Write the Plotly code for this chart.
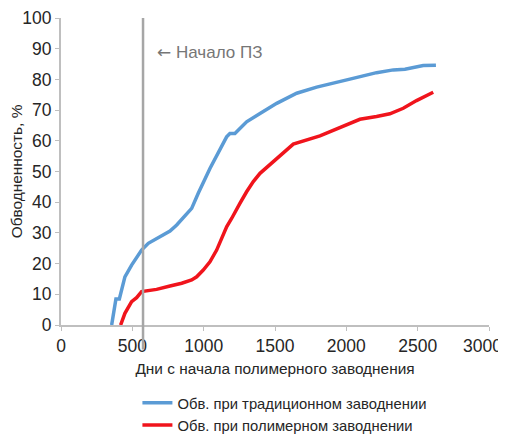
import plotly.graph_objects as go

blue_x = [355, 385, 409, 448, 495, 565, 612, 670, 764, 811, 916, 962, 1044, 1161, 1184, 1219, 1301, 1395, 1512, 1652, 1792, 2025, 2212, 2329, 2411, 2539, 2628]
blue_y = [0, 8.5, 8.5, 15.7, 19.5, 24.4, 26.6, 28.2, 30.6, 32.6, 38, 42.9, 51, 61.3, 62.4, 62.4, 66.2, 68.9, 72.2, 75.5, 77.5, 80.1, 82.2, 83.1, 83.3, 84.5, 84.6]

red_x = [418, 448, 495, 530, 565, 600, 670, 764, 846, 916, 951, 997, 1044, 1091, 1161, 1196, 1231, 1254, 1301, 1348, 1395, 1512, 1628, 1815, 1978, 2095, 2212, 2305, 2399, 2492, 2609]
red_y = [0, 3.8, 7.6, 8.9, 10.9, 11.2, 11.6, 12.7, 13.6, 14.7, 15.7, 17.9, 20.6, 24.4, 32, 34.7, 38, 39.6, 43.4, 46.7, 49.4, 54.3, 58.9, 61.6, 64.8, 67, 67.9, 68.8, 70.6, 73.1, 75.8]

x_ticks = [0, 500, 1000, 1500, 2000, 2500, 3000]
y_ticks = list(range(0, 101, 10))

start_day = 575
names = ["Обв. при традиционном заводнении", "Обв. при полимерном заводнении"]

font = "Liberation Sans, Arial, sans-serif"
txt = "#262626"

fig = go.Figure()
fig.add_trace(go.Scatter(x=blue_x, y=blue_y, mode="lines", name=names[0],
                         line=dict(color="#5b9bd5", width=3.5)))
fig.add_trace(go.Scatter(x=red_x, y=red_y, mode="lines", name=names[1],
                         line=dict(color="#f0141c", width=3.5)))

fig.add_shape(type="line", xref="x", yref="paper", x0=start_day, x1=start_day,
              y0=-0.08, y1=1, line=dict(color="#a6a6a6", width=2.5), layer="above")

fig.add_annotation(x=start_day, y=89, xref="x", yref="y",
                   text='<span style="font-family:DejaVu Sans">←</span> Начало ПЗ',
                   showarrow=False, xanchor="left", xshift=12,
                   font=dict(family=font, size=17, color="#767676"))

# last x tick label kept inside the figure (as in the original)
fig.add_annotation(x=x_ticks[-1], y=0, xref="x", yref="paper", text=str(x_ticks[-1]),
                   showarrow=False, xanchor="right", yanchor="middle", xshift=15, yshift=-21,
                   font=dict(family=font, size=17.5, color=txt))

fig.update_layout(
    width=498, height=426,
    margin=dict(l=53, r=17, t=10, b=109, autoexpand=False),
    paper_bgcolor="white", plot_bgcolor="white",
    font=dict(family=font, color=txt),
    showlegend=True,
    legend=dict(orientation="v", x=0.522, xanchor="center", y=-0.201, yanchor="top",
                font=dict(family=font, size=14.8, color=txt),
                tracegroupgap=0, itemwidth=30),
    xaxis=dict(range=[0, 3000], tickvals=x_ticks,
               ticktext=[str(v) for v in x_ticks[:-1]] + [""], automargin=False,
               showgrid=False, zeroline=False, showline=True, linecolor="#bfbfbf", linewidth=2,
               ticks="outside", ticklen=4, tickcolor="#bfbfbf", tickwidth=1,
               tickfont=dict(family=font, size=17.5, color=txt),
               title=dict(text="Дни с начала полимерного заводнения",
                          font=dict(family=font, size=15.4, color=txt), standoff=8)),
    yaxis=dict(range=[0, 100], tickvals=y_ticks, automargin=False,
               showgrid=False, zeroline=False, showline=True, linecolor="#bfbfbf", linewidth=2,
               ticks="outside", ticklen=4, tickcolor="#bfbfbf", tickwidth=1,
               tickfont=dict(family=font, size=17.5, color=txt),
               title=dict(text="Обводненность, %",
                          font=dict(family=font, size=15.4, color=txt), standoff=6)),
)

fig.write_html("out.html")
